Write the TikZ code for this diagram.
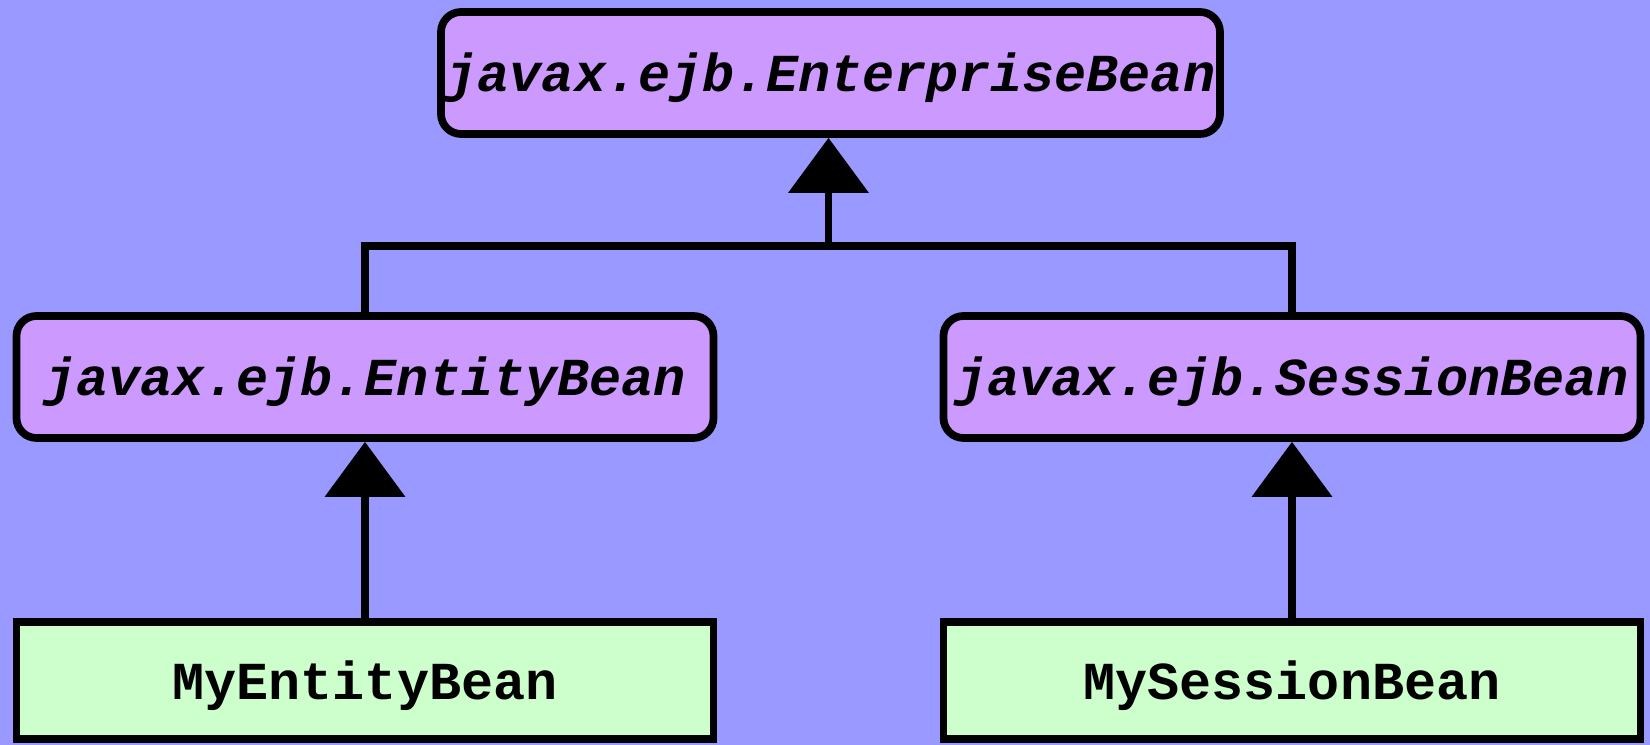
\documentclass[tikz,border=0pt]{standalone}
\usepackage{fontspec}
\setmonofont{Liberation Mono}
\usepackage{tikz}
\usetikzlibrary{arrows.meta, positioning, calc}
\usepackage{xcolor}
\definecolor{bean-bg}{HTML}{9999FF}
\definecolor{bean-iface}{HTML}{CC99FF}
\definecolor{bean-impl}{HTML}{CCFFCC}
\newcommand{\beanfont}{\fontsize{15.2}{18}\selectfont\ttfamily\bfseries}
\tikzset{
  iface/.style={draw=black, fill=bean-iface, line width=2.2pt, rounded corners=0.2cm,
    minimum height=1.22cm, font=\beanfont\itshape, inner sep=0pt,
    text height=14pt, text depth=3.2pt},
  impl/.style={draw=black, fill=bean-impl, line width=2.2pt,
    minimum width=6.97cm, minimum height=1.17cm, font=\beanfont, inner sep=0pt,
    text height=14pt, text depth=3.2pt},
  extends/.style={line width=2.1pt, -{Triangle[length=0.55cm, width=0.79cm]}}
}

\begin{document}
\begin{tikzpicture}
    % ── background
    \fill[bean-bg] (0,0) rectangle (16.5,7.45);
    \useasboundingbox (0,0) rectangle (16.5,7.45);
    % ── interfaces
    \node[iface, minimum width=7.79cm] (enterprise) at (8.305,6.72) {javax.ejb.EnterpriseBean};
    \node[iface, minimum width=6.97cm] (entity) at (3.65,3.68) {javax.ejb.EntityBean};
    \node[iface, minimum width=6.97cm] (session) at (12.92,3.68) {javax.ejb.SessionBean};
    % ── implementations
    \node[impl] (myentity) at (3.65,0.645) {MyEntityBean};
    \node[impl] (mysession) at (12.92,0.645) {MySessionBean};
    % ── inheritance
    \coordinate (join) at ($(entity.north)!0.5!(session.north)+(0,0.66)$);
    \draw[line width=2.1pt] (entity.north) |- (join) -| (session.north);
    \draw[extends] (join) -- (join |- enterprise.south);
    \draw[extends] (myentity) -- (entity);
    \draw[extends] (mysession) -- (session);
  \end{tikzpicture}
\end{document}
